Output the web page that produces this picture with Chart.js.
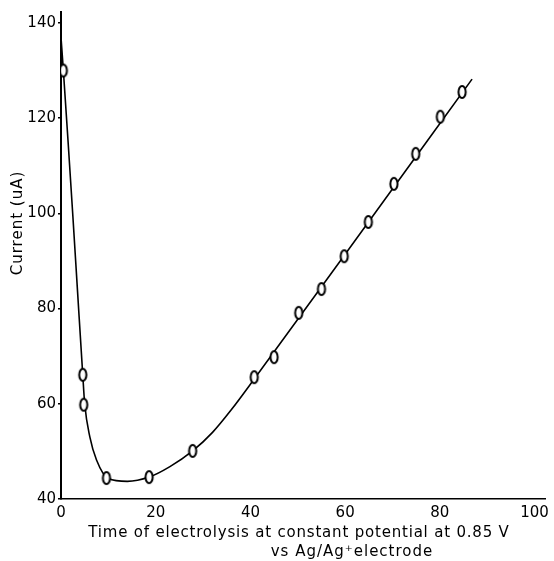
<!DOCTYPE html>
<html>
<head>
<meta charset="utf-8">
<script src="https://cdn.jsdelivr.net/npm/chart.js@4"></script>
<style>
    html, body { margin: 0; padding: 0; background: #fff; }
    #wrap { width: 554px; height: 561px; }
</style>
</head>
<body>
<div id="wrap"><canvas id="currentChart"></canvas></div>
<script>
// Measured points: time (min) vs current (uA)
const timeMin = [0.5, 4.6, 4.8, 9.6, 18.6, 27.8, 40.8, 45, 50.2, 55, 59.8, 64.9, 70.3, 74.9, 80.1, 84.7];
const currentUA = [130, 66.1, 59.8, 44.4, 44.6, 50.1, 65.6, 69.8, 79.1, 84.1, 91, 98.2, 106.2, 112.5, 120.3, 125.5];

// Hand-drawn fit through the points
const fitX = [0, 0.5, 1.5, 2.5, 3.5, 4.6, 5.0, 6.1, 7.5, 10, 14, 18.6, 23, 27.8, 32, 36, 40.8, 60, 86.8];
const fitY = [137, 130, 115, 99.5, 83.5, 66, 60, 53, 48.2, 44.3, 43.7, 44.6, 46.8, 50.1, 54, 58.8, 65.2, 91.4, 128.2];

const yTicks = [40, 60, 80, 100, 120, 140];
const xTicks = [0, 20, 40, 60, 80, 100];

const FONT = "'DejaVu Sans', sans-serif";

// open circle marker, slightly taller than wide
function makeMarker() {
    const c = document.createElement('canvas');
    c.width = 14; c.height = 18;
    const ctx = c.getContext('2d');
    ctx.beginPath();
    ctx.ellipse(7, 9, 3.6, 6, 0, 0, Math.PI * 2);
    ctx.fillStyle = '#fff';
    ctx.fill();
    ctx.lineWidth = 2;
    ctx.strokeStyle = '#000';
    ctx.stroke();
    return c;
}

const axisTitles = {
    id: 'axisTitles',
    afterDraw(chart) {
        const ctx = chart.ctx;
        ctx.save();
        ctx.fillStyle = '#000';
        ctx.font = '15px ' + FONT;
        ctx.textAlign = 'center';
        ctx.textBaseline = 'alphabetic';
        ctx.letterSpacing = '0.8px';
        ctx.fillText('Time of electrolysis at constant potential at 0.85 V', 299, 537);
        ctx.letterSpacing = '1px';
        ctx.fillText('vs Ag/Ag\u207Aelectrode', 352, 556);
        ctx.translate(18, 223);
        ctx.rotate(-Math.PI / 2);
        ctx.textBaseline = 'middle';
        ctx.fillText('Current (uA)', 0, 0);
        ctx.restore();
    }
};

new Chart(document.getElementById('currentChart'), {
    type: 'scatter',
    data: {
        datasets: [{
            label: 'measured',
            data: timeMin.map((t, i) => ({ x: t, y: currentUA[i] })),
            pointStyle: makeMarker(),
            order: 0
        }, {
            label: 'fit',
            data: fitX.map((t, i) => ({ x: t, y: fitY[i] })),
            showLine: true,
            borderColor: '#000',
            borderWidth: 1.6,
            pointRadius: 0,
            cubicInterpolationMode: 'monotone',
            order: 1
        }]
    },
    options: {
        responsive: true,
        maintainAspectRatio: false,
        animation: false,
        layout: { padding: { top: 12, right: 0, left: 0, bottom: 0 } },
        plugins: {
            legend: { display: false },
            tooltip: { enabled: false }
        },
        scales: {
            x: {
                type: 'linear',
                min: 0,
                max: 102.3,
                afterFit(scale) { scale.height = 62; },
                afterBuildTicks(scale) { scale.ticks = xTicks.map(v => ({ value: v })); },
                grid: { display: false, drawTicks: false },
                border: { display: true, color: '#000', width: 1.6 },
                ticks: { color: '#000', font: { family: FONT, size: 15 }, padding: 5, maxRotation: 0 }
            },
            y: {
                type: 'linear',
                min: 40,
                max: 142.3,
                afterFit(scale) { scale.width = 61; },
                afterBuildTicks(scale) { scale.ticks = yTicks.map(v => ({ value: v })); },
                grid: { drawOnChartArea: false, drawTicks: true, tickLength: 3, color: '#000', lineWidth: 1.5 },
                border: { display: true, color: '#000', width: 2 },
                ticks: { color: '#000', font: { family: FONT, size: 15 }, padding: 2 }
            }
        }
    },
    plugins: [axisTitles]
});
</script>
</body>
</html>
